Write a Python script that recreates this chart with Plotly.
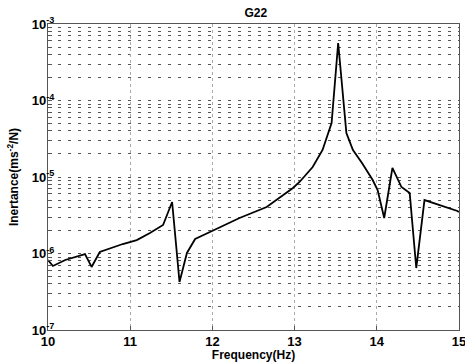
import plotly.graph_objects as go

freq = [10.00, 10.06, 10.21, 10.45, 10.53, 10.63, 10.91, 11.08, 11.24, 11.40,
        11.51, 11.60, 11.69, 11.79, 11.97, 12.33, 12.66, 12.98, 13.06, 13.22,
        13.34, 13.45, 13.53, 13.63, 13.71, 13.82, 13.95, 14.01, 14.09, 14.19,
        14.30, 14.40, 14.48, 14.58, 14.98, 15.00]
log_inertance = [-6.085, -6.163, -6.085, -6.007, -6.176, -5.980, -5.876, -5.824, -5.732, -5.627,
                 -5.327, -6.373, -5.993, -5.810, -5.719, -5.536, -5.392, -5.144, -5.065, -4.869,
                 -4.647, -4.294, -3.248, -4.425, -4.647, -4.817, -5.039, -5.170, -5.536, -4.882,
                 -5.131, -5.209, -6.190, -5.301, -5.444, -5.458]
inertance = [10 ** v for v in log_inertance]

x_ticks = [10, 11, 12, 13, 14, 15]
decades = [-7, -6, -5, -4, -3]
y_major = [10.0 ** d for d in decades]
y_labels = [f"<b>10<sup>{d}</sup></b>" for d in decades]
y_minor = [m * 10.0 ** d for d in decades[:-1] for m in range(2, 10)]

font_family = "Liberation Sans, Arial, sans-serif"
grid_dash = "3px,7px"

fig = go.Figure()
fig.add_trace(go.Scatter(x=freq, y=inertance, mode="lines",
                         line=dict(color="black", width=1.8), showlegend=False))

fig.update_layout(
    width=465, height=362,
    margin=dict(l=48, r=6, t=24, b=32),
    paper_bgcolor="white", plot_bgcolor="white",
    font=dict(family=font_family, color="black", size=12),
    title=dict(text="<b>G22</b>", x=0.55, xanchor="center", y=0.965, yanchor="middle",
               font=dict(size=12, family=font_family)),
    xaxis=dict(range=[10, 15], tickvals=x_ticks, ticktext=[f"<b>{v}</b>" for v in x_ticks],
               automargin=False,
               showgrid=True, gridcolor="#aaa", griddash="dot", gridwidth=1,
               showline=True, linecolor="#555", linewidth=1, mirror=True,
               ticks="inside", ticklen=4, tickcolor="#555",
               tickfont=dict(size=13), zeroline=False, ticklabeloverflow="allow",
               ticklabelstandoff=-1,
               title=dict(text="<b>Frequency(Hz)</b>", font=dict(size=12), standoff=0)),
    yaxis=dict(type="log", range=[-7, -3], tickvals=y_major, ticktext=y_labels,
               automargin=False,
               showgrid=True, gridcolor="#555", griddash=grid_dash, gridwidth=1,
               minor=dict(tickmode="array", tickvals=y_minor, ticks="inside", ticklen=4,
                          tickcolor="#555", showgrid=True, gridcolor="#555",
                          griddash=grid_dash, gridwidth=1),
               showline=True, linecolor="#555", linewidth=1, mirror=True,
               ticks="inside", ticklen=4, tickcolor="#555",
               tickfont=dict(size=13), zeroline=False, ticklabelstandoff=-10,
               title=dict(text="<b>Inertance(ms<sup>-2</sup>/N)</b>", font=dict(size=12), standoff=10)),
)

fig.write_html("out.html", config={"displayModeBar": False},
               post_script="document.body.style.margin='0';document.body.style.overflow='hidden';")
